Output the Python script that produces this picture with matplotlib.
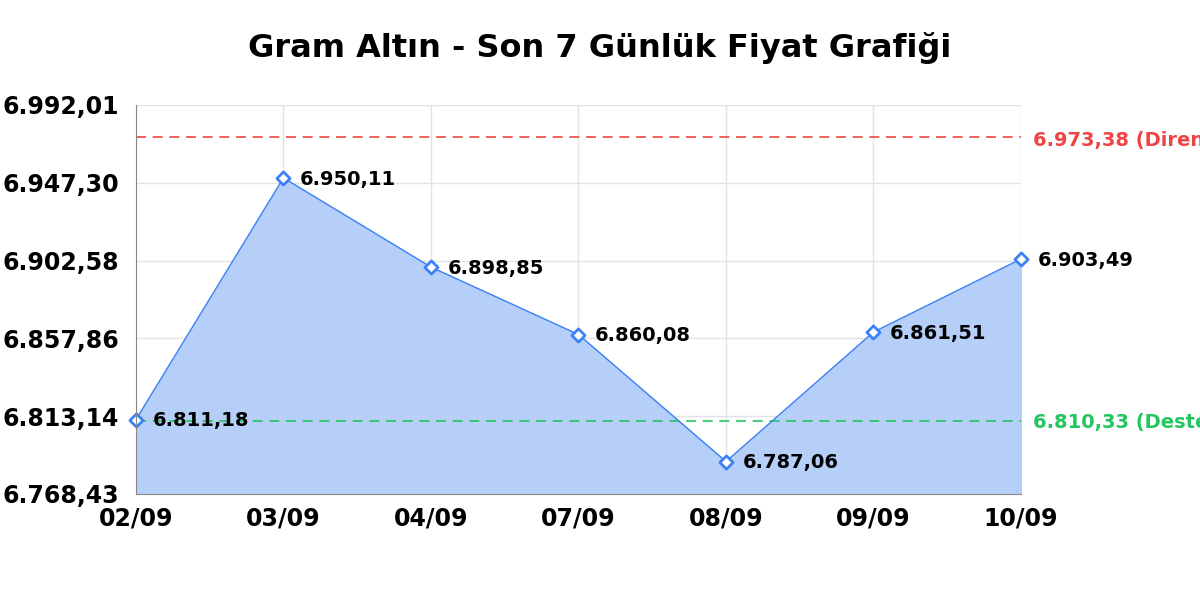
import matplotlib
matplotlib.use("Agg")
import matplotlib.pyplot as plt

# son 7 gunluk gram altin fiyatlari
dates = ["02/09", "03/09", "04/09", "07/09", "08/09", "09/09", "10/09"]
prices = [6811.18, 6950.11, 6898.85, 6860.08, 6787.06, 6861.51, 6903.49]
y_ticks = [6768.43, 6813.14, 6857.86, 6902.58, 6947.30, 6992.01]
resistance = 6973.38
support = 6810.33


def tr_fmt(v):
    # 6950.11 -> 6.950,11
    s = "{:,.2f}".format(v)
    return s.replace(",", "X").replace(".", ",").replace("X", ".")


fig = plt.figure(figsize=(12, 6), dpi=100)
ax = fig.add_axes([0.1133, 0.1767, 0.7375, 0.6483])

x = list(range(len(dates)))
ax.fill_between(x, prices, y_ticks[0], color="#b6cff9", zorder=1)
ax.plot(x, prices, color="#3b82f6", lw=1, zorder=3)
ax.scatter(x, prices, marker="D", s=45, facecolor="white", edgecolor="#3b82f6",
           linewidth=2, zorder=4, clip_on=False)

ax.axhline(resistance, color="#ef4444", ls=(0, (6, 4)), lw=1.2, zorder=2)
ax.axhline(support, color="#22c55e", ls=(0, (6, 4)), lw=1.2, zorder=2)

for xi, p in zip(x, prices):
    ax.annotate(tr_fmt(p), (xi, p), textcoords="offset points", xytext=(12, -1),
                ha="left", va="center", fontsize=14, fontweight="bold", zorder=5)

ax.annotate(tr_fmt(resistance) + " (Direnç)", (1, resistance),
            xycoords=("axes fraction", "data"), textcoords="offset points",
            xytext=(9, -2), ha="left", va="center", fontsize=14,
            fontweight="bold", color="#ef4444", annotation_clip=False)
ax.annotate(tr_fmt(support) + " (Destek)", (1, support),
            xycoords=("axes fraction", "data"), textcoords="offset points",
            xytext=(9, -1), ha="left", va="center", fontsize=14,
            fontweight="bold", color="#22c55e", annotation_clip=False)

ax.set_xlim(0, len(dates) - 1)
ax.set_ylim(y_ticks[0], y_ticks[-1])
ax.set_xticks(x)
ax.set_xticklabels(dates, fontsize=17, fontweight="bold")
ax.set_yticks(y_ticks)
ax.set_yticklabels([tr_fmt(v) for v in y_ticks], fontsize=17, fontweight="bold")
ax.tick_params(axis="y", length=0, pad=12)
ax.tick_params(axis="x", length=0, pad=9)

ax.grid(True, color="#e3e3e3", lw=1, zorder=0)
ax.set_axisbelow(True)
for side in ["top", "right"]:
    ax.spines[side].set_visible(False)
for side in ["left", "bottom"]:
    ax.spines[side].set_color("#888888")
    ax.spines[side].set_zorder(5)

fig.text(0.5, 0.92, "Gram Altın - Son 7 Günlük Fiyat Grafiği", fontsize=23,
         fontweight="bold", ha="center", va="center")

fig.savefig("out.png", dpi=100)
